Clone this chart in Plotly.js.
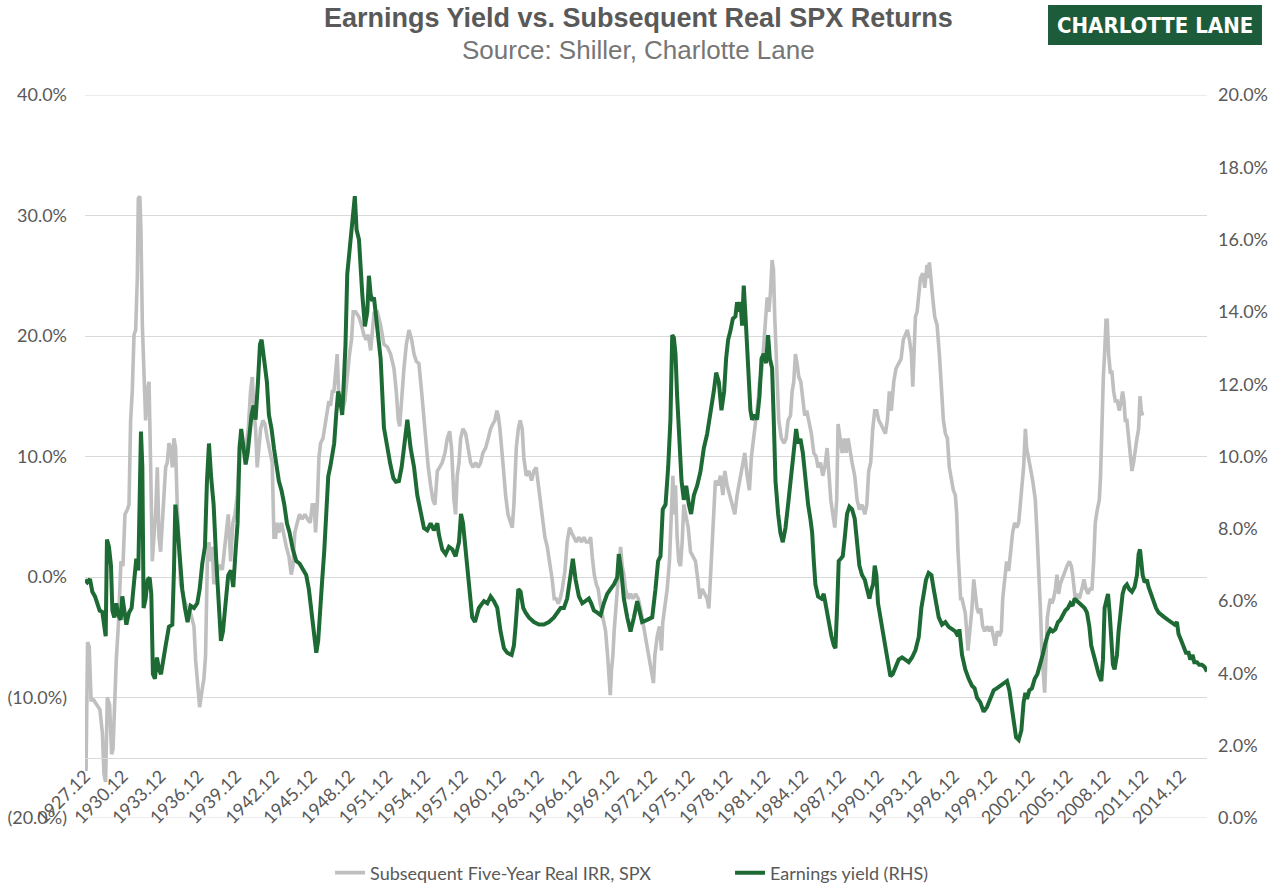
<!DOCTYPE html>
<html>
<head>
<meta charset="utf-8">
<script src="https://cdn.plot.ly/plotly-3.0.1.min.js"></script>
<style>
  html, body { margin: 0; padding: 0; background: #ffffff; }
  #chart { width: 1281px; height: 889px; }
</style>
</head>
<body>
<div id="chart"></div>
<script>
// Earnings yield (RHS, %) — month positions as decimal years
const yieldDates = [
  1927.92,1928.10,1928.31,1928.50,1928.71,1928.90,1929.08,1929.29,1929.42,1929.56,1929.66,1929.82,1929.98,
  1930.09,1930.24,1930.40,1930.56,1930.75,1930.88,1931.04,1931.20,1931.41,1931.62,1931.81,1931.99,
  1932.15,1932.28,1932.36,1932.47,1932.57,1932.73,1932.89,1933.05,1933.18,1933.31,1933.47,1933.63,1933.79,1933.95,
  1934.11,1934.32,1934.58,1934.85,1934.98,1935.09,1935.24,1935.43,1935.64,1935.85,1936.06,1936.30,1936.57,1936.83,
  1937.02,1937.23,1937.44,1937.60,1937.76,1937.94,1938.13,1938.34,1938.55,1938.71,1938.87,1939.08,1939.29,1939.50,1939.69,1939.87,
  1940.03,1940.19,1940.32,1940.51,1940.67,1940.83,1940.99,1941.14,1941.30,1941.46,1941.65,1941.81,1941.94,
  1942.07,1942.20,1942.36,1942.52,1942.73,1942.92,1943.10,1943.31,1943.52,1943.74,1943.95,1944.16,1944.42,1944.69,1944.95,
  1945.22,1945.48,1945.69,1945.91,1946.09,1946.28,1946.43,1946.59,1946.75,1946.91,1947.07,1947.23,1947.39,1947.55,1947.70,1947.86,
  1948.02,1948.18,1948.34,1948.50,1948.60,1948.74,1948.92,1949.08,1949.24,1949.34,1949.48,1949.67,1949.93,
  1950.14,1950.33,1950.46,1950.59,1950.72,1950.86,1951.12,1951.39,1951.65,1951.92,1952.15,1952.40,1952.60,1952.84,
  1953.06,1953.24,1953.51,1953.77,1954.04,1954.30,1954.56,1954.83,1955.09,1955.36,1955.62,1955.89,1956.02,1956.28,1956.55,1956.81,
  1957.08,1957.34,1957.61,1957.77,1957.93,1958.14,1958.40,1958.66,1958.88,1959.19,1959.59,1959.86,
  1960.12,1960.38,1960.65,1960.91,1961.18,1961.44,1961.79,1961.97,1962.10,1962.32,1962.50,1962.71,1962.90,
  1963.16,1963.56,1963.96,1964.35,1964.75,1965.15,1965.41,1965.68,1965.94,1966.20,1966.47,1966.65,1966.87,
  1967.13,1967.40,1967.66,1967.92,1968.11,1968.32,1968.59,1968.85,1969.11,1969.38,1969.64,1969.91,
  1970.17,1970.30,1970.49,1970.70,1970.97,1971.23,1971.50,1971.76,1971.89,1972.15,1972.55,1972.95,
  1973.21,1973.42,1973.61,1973.79,1974.01,1974.22,1974.40,1974.54,1974.67,1974.80,1974.93,
  1975.12,1975.28,1975.46,1975.65,1975.86,1976.04,1976.26,1976.52,1976.78,1977.05,1977.31,1977.58,1977.84,
  1978.03,1978.24,1978.45,1978.66,1978.82,1978.98,1979.17,1979.35,1979.56,1979.69,1979.83,1979.96,
  1980.09,1980.22,1980.36,1980.49,1980.62,1980.75,1980.88,1981.10,1981.28,1981.47,1981.63,1981.81,1981.99,
  1982.15,1982.29,1982.47,1982.60,1982.74,1982.95,1983.13,1983.32,1983.53,1983.74,1983.95,
  1984.19,1984.38,1984.54,1984.72,1984.91,1985.12,1985.33,1985.51,1985.65,1985.78,1985.91,
  1986.12,1986.39,1986.57,1986.76,1986.97,1987.18,1987.37,1987.50,1987.66,1987.76,1987.92,
  1988.08,1988.24,1988.42,1988.61,1988.82,1989.03,1989.22,1989.40,1989.61,1989.83,
  1990.01,1990.20,1990.36,1990.49,1990.62,1990.75,1990.88,1991.07,1991.25,1991.47,1991.68,1991.86,
  1992.05,1992.26,1992.52,1992.79,1993.05,1993.32,1993.58,1993.85,1994.11,1994.32,1994.51,1994.69,1994.90,
  1995.12,1995.30,1995.49,1995.70,1995.96,1996.23,1996.49,1996.76,1997.02,1997.23,1997.34,1997.55,1997.81,
  1998.08,1998.34,1998.55,1998.74,1999.00,1999.27,1999.53,1999.80,
  2000.06,2000.33,2000.59,2000.86,2001.12,2001.31,2001.47,2001.65,2001.84,
  2002.05,2002.26,2002.44,2002.58,2002.71,2002.89,2003.10,2003.32,2003.53,2003.77,2003.95,
  2004.16,2004.37,2004.56,2004.75,2004.96,2005.17,2005.35,2005.54,2005.75,2005.96,
  2006.15,2006.33,2006.49,2006.68,2006.86,2007.07,2007.28,2007.47,2007.66,2007.81,
  2008.00,2008.18,2008.40,2008.61,2008.74,2008.87,2009.00,2009.14,2009.27,2009.40,2009.53,2009.66,2009.85,2009.98,
  2010.11,2010.30,2010.46,2010.64,2010.83,2011.04,2011.25,2011.44,2011.57,2011.68,2011.78,2011.89,
  2012.05,2012.23,2012.36,2012.55,2012.76,2012.95,2013.16,2013.37,2013.63,2013.90,
  2014.16,2014.43,2014.61,2014.74,2014.96,2015.14,2015.33,2015.54,2015.67,2015.86,2015.99,
  2016.20,2016.38,2016.59,2016.80,2017.00
];
const yieldValues = [
  6.59,6.52,6.61,6.26,6.13,5.94,5.74,5.70,5.29,5.03,7.70,7.50,6.98,
  5.74,5.55,5.94,5.61,5.48,6.13,5.68,5.35,5.68,5.81,6.52,7.17,
  6.85,9.06,10.69,9.71,5.81,6.07,6.59,6.65,6.20,3.98,3.85,4.44,4.11,3.98,
  4.38,4.77,5.29,5.35,6.85,8.67,8.15,7.24,6.33,5.81,5.42,5.87,5.81,5.94,
  6.33,7.04,7.50,9.32,10.36,9.39,8.67,7.11,5.55,4.90,5.16,5.94,6.72,6.85,6.39,7.37,
  8.15,10.23,10.76,10.23,9.78,10.10,10.76,11.15,11.41,11.02,12.06,13.10,13.23,
  12.84,12.64,12.06,11.15,10.76,10.23,9.71,9.32,9.06,8.67,8.15,7.89,7.43,7.11,7.04,
  6.85,6.72,6.33,5.68,5.03,4.57,4.90,5.94,6.59,7.37,8.41,9.45,9.71,10.10,10.36,11.15,
  11.80,11.54,11.15,12.32,13.10,15.05,15.70,16.09,16.61,17.20,16.27,16.00,14.50,
  13.60,14.00,15.00,14.50,14.30,14.40,13.50,12.70,10.80,10.20,9.80,9.40,9.30,9.32,
  9.71,10.23,11.02,10.23,9.71,8.93,8.41,8.02,7.96,8.15,7.96,8.15,7.83,7.43,7.30,7.50,
  7.43,7.24,7.63,8.41,8.15,7.37,6.33,5.55,5.42,5.81,6.00,5.94,
  6.13,6.00,5.81,5.16,4.70,4.57,4.51,4.77,5.29,6.33,6.26,5.81,5.68,
  5.55,5.42,5.35,5.35,5.42,5.55,5.68,5.81,5.81,6.07,6.72,7.17,6.59,
  6.13,5.94,6.00,6.07,5.94,5.74,5.68,5.61,5.94,6.20,6.33,6.46,
  6.65,7.30,6.85,6.07,5.55,5.16,5.55,6.00,5.81,5.42,5.48,5.55,
  6.33,7.11,7.24,8.54,8.67,9.71,11.02,13.36,13.29,12.84,11.67,
  10.23,9.32,8.80,9.19,8.67,8.41,8.93,9.19,9.58,10.23,10.62,11.15,11.80,
  12.32,12.06,11.28,11.80,12.71,13.23,13.49,13.81,13.88,14.27,14.01,14.27,
  13.62,14.73,13.88,12.84,12.06,11.28,11.02,11.15,11.02,11.67,12.71,12.84,12.58,
  13.36,12.71,12.45,11.02,9.32,8.41,7.89,7.63,8.02,8.67,9.32,
  10.10,10.76,10.36,10.49,10.10,9.32,8.67,8.28,7.89,7.11,6.46,
  6.13,6.07,6.20,5.81,5.42,5.03,4.77,4.70,6.07,7.11,7.17,
  7.24,7.76,8.41,8.61,8.54,8.28,7.63,6.98,6.72,6.59,
  6.33,6.07,6.33,6.46,6.98,6.72,5.94,5.55,5.16,4.64,4.24,3.92,
  3.98,4.18,4.38,4.44,4.38,4.31,4.44,4.64,5.00,5.81,6.20,6.59,6.78,
  6.72,6.33,5.94,5.55,5.35,5.42,5.29,5.22,5.16,5.03,5.22,4.51,4.11,
  3.85,3.66,3.59,3.33,3.20,2.94,3.07,3.33,
  3.53,3.59,3.66,3.72,3.79,3.53,3.07,2.68,2.23,
  2.16,2.42,3.20,3.46,3.29,3.53,3.59,3.85,3.98,4.24,4.51,
  4.83,5.09,5.22,5.16,5.22,5.42,5.48,5.61,5.74,5.81,
  5.94,5.87,6.07,6.00,5.94,5.87,5.81,5.68,5.29,4.77,
  4.51,4.24,3.98,3.79,4.38,5.81,6.07,6.20,5.68,4.77,4.24,4.11,4.51,5.16,
  5.68,6.20,6.39,6.46,6.33,6.26,6.39,6.72,7.30,7.43,7.11,6.72,
  6.52,6.59,6.39,6.20,6.00,5.81,5.68,5.61,5.55,5.48,
  5.42,5.35,5.42,5.09,4.90,4.70,4.57,4.57,4.38,4.51,4.31,
  4.31,4.24,4.24,4.18,4.05
];

// Subsequent five-year real IRR on the S&P 500 (LHS, %)
const irrDates = [
  1927.92,1928.00,1928.12,1928.25,1928.40,1928.60,1928.85,1929.10,1929.30,1929.42,1929.55,1929.69,1929.87,
  1930.03,1930.14,1930.24,1930.40,1930.56,1930.67,1930.77,1930.93,1931.09,1931.28,1931.41,1931.54,1931.67,1931.81,1931.94,
  1932.07,1932.15,1932.27,1932.36,1932.47,1932.60,1932.73,1932.86,1933.00,1933.13,1933.26,1933.39,1933.52,1933.66,1933.79,1933.92,
  1934.05,1934.19,1934.32,1934.45,1934.58,1934.72,1934.85,1934.98,1935.11,1935.24,1935.38,1935.51,1935.77,
  1936.04,1936.30,1936.57,1936.70,1936.83,1937.02,1937.18,1937.36,1937.49,1937.63,1937.76,1937.89,
  1938.02,1938.15,1938.29,1938.55,1938.82,1939.08,1939.29,1939.48,1939.66,1939.82,
  1940.01,1940.19,1940.40,1940.67,1940.88,1941.06,1941.20,1941.33,1941.46,1941.59,1941.73,1941.86,
  1942.04,1942.20,1942.39,1942.57,1942.78,1942.92,1943.05,1943.18,1943.31,1943.52,1943.71,1943.90,
  1944.11,1944.29,1944.42,1944.58,1944.77,1944.95,1945.16,1945.38,1945.59,1945.80,1945.96,
  1946.12,1946.22,1946.36,1946.49,1946.62,1946.81,1947.02,1947.15,1947.28,1947.41,1947.55,1947.68,1947.81,1947.94,
  1948.07,1948.34,1948.55,1948.74,1948.92,1949.08,1949.21,1949.40,1949.66,1949.87,
  1950.06,1950.24,1950.40,1950.60,1950.86,1951.12,1951.39,1951.65,1951.92,1952.18,1952.45,1952.63,1952.79,1952.90,
  1953.06,1953.24,1953.43,1953.64,1953.85,1954.04,1954.22,1954.43,1954.64,1954.83,
  1955.01,1955.17,1955.36,1955.54,1955.70,1955.89,1956.07,1956.28,1956.50,1956.68,1956.87,
  1957.02,1957.21,1957.34,1957.47,1957.61,1957.74,1957.93,1958.14,1958.35,1958.53,1958.72,1958.93,
  1959.14,1959.33,1959.51,1959.72,1959.93,1960.12,1960.30,1960.46,1960.62,1960.73,1960.86,1960.99,
  1961.13,1961.31,1961.50,1961.71,1961.84,1961.97,1962.16,1962.32,1962.47,1962.63,1962.76,1962.95,
  1963.16,1963.37,1963.56,1963.74,1963.96,1964.11,1964.27,1964.43,1964.62,1964.80,
  1965.01,1965.17,1965.33,1965.49,1965.65,1965.81,1966.02,1966.20,1966.39,1966.55,1966.73,1966.92,
  1967.13,1967.34,1967.53,1967.71,1967.92,1968.06,1968.19,1968.35,1968.51,1968.66,1968.82,1968.98,
  1969.11,1969.25,1969.41,1969.51,1969.62,1969.72,1969.83,1969.93,1970.04,1970.17,1970.30,1970.44,1970.57,1970.70,1970.83,
  1971.05,1971.23,1971.42,1971.63,1971.84,1972.02,1972.21,1972.42,1972.68,1972.90,
  1973.05,1973.16,1973.35,1973.53,1973.69,1973.79,1973.95,1974.14,1974.32,1974.46,1974.59,1974.69,1974.80,1974.93,
  1975.06,1975.20,1975.33,1975.46,1975.59,1975.81,1975.99,1976.18,1976.39,1976.57,1976.73,1976.92,
  1977.13,1977.31,1977.45,1977.58,1977.71,1977.84,1977.97,1978.19,1978.37,1978.56,1978.72,1978.90,
  1979.09,1979.30,1979.51,1979.69,1979.88,1980.09,1980.30,1980.49,1980.67,1980.83,
  1981.02,1981.20,1981.36,1981.47,1981.63,1981.81,1981.94,1982.08,1982.21,1982.34,1982.47,1982.58,1982.68,1982.79,1982.90,
  1983.00,1983.21,1983.42,1983.58,1983.74,1983.93,1984.06,1984.19,1984.32,1984.46,1984.59,1984.75,1984.91,
  1985.06,1985.22,1985.38,1985.59,1985.78,1985.96,1986.12,1986.31,1986.49,1986.65,1986.84,1986.97,
  1987.13,1987.29,1987.45,1987.60,1987.71,1987.87,1988.03,1988.19,1988.35,1988.50,1988.66,1988.82,
  1989.03,1989.22,1989.40,1989.61,1989.83,1989.99,1990.14,1990.30,1990.46,1990.62,1990.78,1990.94,
  1991.10,1991.25,1991.47,1991.62,1991.78,1991.94,1992.13,1992.31,1992.52,1992.71,1992.89,
  1993.05,1993.21,1993.37,1993.53,1993.64,1993.74,1993.85,1993.98,1994.11,1994.25,1994.43,1994.59,1994.77,1994.85,1994.96,
  1995.12,1995.22,1995.38,1995.57,1995.75,1995.91,1996.07,1996.23,1996.39,1996.54,1996.70,1996.86,
  1997.02,1997.13,1997.23,1997.34,1997.44,1997.55,1997.68,1997.81,1997.92,
  1998.02,1998.13,1998.24,1998.34,1998.48,1998.61,1998.74,1998.87,1999.03,1999.19,1999.35,1999.53,1999.72,1999.88,
  2000.04,2000.19,2000.35,2000.51,2000.67,2000.78,2000.94,2001.09,2001.25,2001.41,2001.57,2001.73,2001.89,
  2002.05,2002.18,2002.31,2002.44,2002.58,2002.68,2002.79,2002.97,2003.16,2003.37,2003.50,2003.63,2003.77,2003.90,
  2004.03,2004.11,2004.22,2004.32,2004.43,2004.56,2004.69,2004.82,2004.96,
  2005.09,2005.22,2005.35,2005.49,2005.70,2005.88,2006.07,2006.23,2006.33,2006.44,2006.54,2006.70,2006.86,
  2007.07,2007.23,2007.39,2007.55,2007.71,2007.87,2008.00,2008.13,2008.29,2008.45,2008.55,2008.66,2008.77,2008.87,2008.98,
  2009.08,2009.19,2009.32,2009.45,2009.59,2009.72,2009.88,2010.04,2010.19,2010.30,2010.41,2010.51,2010.64,2010.78,2010.91,
  2011.04,2011.17,2011.31,2011.44,2011.57,2011.68,2011.78,2011.89
];
const irrValues = [
  -12.3,-16.1,-5.4,-5.8,-10.2,-10.2,-10.6,-11.0,-13.0,-16.3,-17.0,-10.0,-10.6,
  -14.7,-14.3,-11.2,-6.9,-4.1,-1.4,1.3,0.9,5.2,5.6,6.0,13.0,15.4,20.1,20.5,
  24.8,31.4,31.6,28.7,20.9,16.2,13.0,15.4,16.2,9.1,1.3,3.3,5.2,9.1,3.3,2.1,
  4.5,6.0,9.1,9.5,11.1,10.7,9.1,11.5,10.7,6.0,2.9,-0.6,-1.8,
  -2.6,-3.0,-4.1,-6.9,-8.4,-10.8,-9.6,-8.4,-6.5,1.3,2.9,1.3,
  2.5,-0.6,-0.2,1.0,0.6,3.3,5.2,1.3,4.5,5.2,
  6.8,11.1,11.1,10.7,12.3,15.4,16.6,13.8,12.3,9.1,10.7,12.3,
  13.0,12.7,11.5,10.7,9.5,3.3,3.3,4.5,3.7,4.5,3.3,2.5,
  1.7,0.2,0.9,3.7,4.5,5.2,4.8,5.2,4.8,4.5,6.0,
  6.0,3.7,6.0,9.9,11.1,11.5,13.0,13.8,14.6,14.2,15.4,15.4,17.3,18.5,
  15.0,13.8,14.6,17.0,18.5,19.7,22.0,22.0,21.6,20.9,
  20.1,19.7,20.1,18.8,21.9,22.0,20.9,19.3,19.1,18.5,17.3,15.4,13.0,12.5,
  15.0,17.3,19.3,20.5,19.7,18.5,17.9,17.7,15.4,13.0,
  10.7,9.1,7.6,6.4,6.0,8.8,9.1,9.5,10.3,11.5,12.1,
  10.7,6.4,5.2,8.4,9.5,11.5,12.3,11.9,10.7,9.5,9.1,9.5,
  9.1,9.5,10.3,10.7,11.5,12.3,12.7,13.0,13.8,13.4,12.3,10.3,
  9.1,6.8,5.2,4.5,4.1,6.0,10.7,12.3,13.0,12.3,9.9,8.4,
  8.8,8.0,8.8,9.1,7.2,6.0,4.5,3.3,2.5,1.3,
  -0.2,-1.8,-1.8,-2.2,-1.8,-1.0,0.5,2.9,4.1,3.7,3.3,2.9,
  3.3,2.9,3.3,2.9,2.9,3.3,1.7,0.2,-0.6,-1.0,-2.2,-3.0,
  -3.8,-4.5,-6.5,-8.8,-9.8,-7.7,-6.5,-4.5,-3.0,-1.0,1.3,2.5,0.9,0.2,-1.0,
  -1.8,-1.4,-1.8,-1.4,-1.8,-2.6,-3.8,-5.0,-6.5,-8.0,
  -8.8,-6.5,-4.9,-4.1,-6.1,-3.75,-2.6,-1.0,1.3,5.2,8.4,5.2,7.6,3.3,
  1.3,0.9,2.9,6.0,5.2,4.1,2.1,1.7,1.3,-0.2,-1.8,-1.0,
  -1.4,-1.8,-2.6,0.2,2.9,6.0,8.0,7.6,8.4,6.8,8.8,7.6,
  6.8,6.0,5.2,6.8,8.0,9.1,10.3,8.4,7.2,10.0,
  11.5,13.0,14.6,16.2,16.9,19.3,20.9,23.2,22.0,23.6,26.3,25.5,21.6,18.5,16.2,
  13.0,11.5,11.1,11.5,13.0,13.4,15.4,16.2,18.5,17.7,16.6,16.2,14.6,
  13.4,13.8,13.0,11.9,10.3,10.0,9.1,9.5,8.4,9.1,10.7,8.4,
  6.4,5.2,4.1,6.4,12.7,11.5,10.3,11.5,10.3,11.5,10.3,9.5,
  8.4,6.4,5.6,6.0,5.2,6.0,8.8,9.5,12.3,13.8,13.8,13.0,
  12.7,12.3,11.9,13.0,15.4,13.8,16.2,17.3,17.7,18.1,19.7,
  20.1,20.5,19.7,18.5,15.8,18.5,21.6,22.0,23.6,24.8,25.2,24.0,25.9,24.8,26.1,
  24.0,23.2,21.6,20.9,18.5,15.8,13.0,11.9,11.5,9.1,8.0,7.2,
  6.8,5.2,2.1,-0.6,-1.8,-1.8,-2.6,-3.0,-4.5,
  -6.1,-4.9,-3.75,-2.6,-0.2,-1.4,-2.6,-3.0,-2.6,-4.1,-4.5,-4.1,-4.5,-4.1,
  -4.9,-5.7,-4.5,-4.9,-4.5,-1.8,-0.2,1.3,0.5,2.1,3.7,4.5,4.1,
  4.5,6.4,7.6,9.1,12.3,10.7,9.9,9.1,8.0,6.4,3.7,1.3,-2.6,-6.5,
  -8.8,-9.6,-6.5,-3.4,-2.6,-1.8,-2.2,-1.8,-1.0,
  0.2,-1.4,-0.6,-0.2,0.5,0.9,1.3,0.9,0.2,-1.0,-1.8,-1.4,-1.8,
  -1.0,-0.2,-1.0,-1.4,-1.0,-1.0,1.3,4.5,5.6,6.4,8.4,13.0,16.6,18.5,21.3,
  21.3,18.5,17.0,17.0,15.4,14.6,14.6,13.8,14.6,15.4,14.6,13.0,13.0,11.5,9.9,
  8.8,9.5,10.7,11.5,12.3,15.0,13.8,13.4
];

// Axis labels
const dateTickLabels = [
  "1927.12","1930.12","1933.12","1936.12","1939.12","1942.12","1945.12","1948.12","1951.12","1954.12",
  "1957.12","1960.12","1963.12","1966.12","1969.12","1972.12","1975.12","1978.12","1981.12","1984.12",
  "1987.12","1990.12","1993.12","1996.12","1999.12","2002.12","2005.12","2008.12","2011.12","2014.12"
];
const leftTickValues = [-20, -10, 0, 10, 20, 30, 40];
const leftTickLabels = ["(20.0%)", "(10.0%)", "0.0%", "10.0%", "20.0%", "30.0%", "40.0%"];
const rightTickValues = [0, 2, 4, 6, 8, 10, 12, 14, 16, 18, 20];
const rightTickLabels = ["0.0%", "2.0%", "4.0%", "6.0%", "8.0%", "10.0%", "12.0%", "14.0%", "16.0%", "18.0%", "20.0%"];

const seriesNames = ["Subsequent Five-Year Real IRR, SPX", "Earnings yield (RHS)"];
const chartTitle = "Earnings Yield vs. Subsequent Real SPX Returns";
const chartSubtitle = "Source: Shiller, Charlotte Lane";
const brandName = "CHARLOTTE LANE";

// "1927.12" -> December 1927 as a decimal year
const dateTickValues = dateTickLabels.map(s => {
  const [y, m] = s.split(".").map(Number);
  return y + (m - 1) / 12;
});

const labelFamily = "Lato, 'Open Sans', sans-serif";
const tickFont = { family: labelFamily, size: 18, color: "#595959" };
const titleFamily = "'Liberation Sans', Arial, sans-serif";
const logoFamily = "'DejaVu Sans Condensed', 'DejaVu Sans', sans-serif";
const gridColor = "#d9d9d9";

const traces = [
  {
    x: irrDates, y: irrValues, name: seriesNames[0], type: "scatter", mode: "lines",
    yaxis: "y", line: { color: "#bfbfbf", width: 3.6 }, hoverinfo: "skip"
  },
  {
    x: yieldDates, y: yieldValues, name: seriesNames[1], type: "scatter", mode: "lines",
    yaxis: "y2", line: { color: "#1e6a34", width: 4 }, hoverinfo: "skip"
  }
];

const layout = {
  width: 1281, height: 889,
  margin: { l: 85, r: 74, t: 95, b: 71, autoexpand: false },
  paper_bgcolor: "#ffffff", plot_bgcolor: "#ffffff",
  showlegend: true,
  legend: {
    orientation: "h", x: 0.2184, xanchor: "left", y: -0.076, yanchor: "middle",
    font: { family: labelFamily, size: 18, color: "#595959" },
    itemwidth: 30, entrywidth: 355, entrywidthmode: "pixels"
  },
  xaxis: {
    range: [1927.917, 2017.0],
    anchor: "free", position: 5 / 60,
    showline: true, linecolor: gridColor, linewidth: 1,
    showgrid: false, zeroline: false, ticks: "",
    tickmode: "array", tickvals: dateTickValues, ticktext: dateTickLabels,
    tickangle: -45, tickfont: tickFont
  },
  yaxis: {
    range: [-20, 40], tickmode: "array", tickvals: leftTickValues, ticktext: leftTickLabels,
    showgrid: true, gridcolor: gridColor, gridwidth: 1, zeroline: false, showline: false,
    ticks: "", tickfont: tickFont, ticklabelstandoff: 17
  },
  yaxis2: {
    overlaying: "y", side: "right", range: [0, 20],
    tickmode: "array", tickvals: rightTickValues, ticktext: rightTickLabels,
    showgrid: false, zeroline: false, showline: false,
    ticks: "", tickfont: tickFont, ticklabelstandoff: 10
  },
  shapes: [
    // outer gridlines at the ends of the left scale
    { type: "line", xref: "paper", x0: 0, x1: 1, yref: "y", y0: -20, y1: -20,
      line: { color: gridColor, width: 1 }, layer: "below" },
    { type: "line", xref: "paper", x0: 0, x1: 1, yref: "y", y0: 40, y1: 40,
      line: { color: gridColor, width: 1 }, layer: "below" },
    // brand badge
    { type: "rect", xref: "paper", yref: "paper",
      x0: 0.8583, x1: 1.049, y0: 1.0692, y1: 1.1245,
      fillcolor: "#1d5c3a", line: { width: 0 }, layer: "above" }
  ],
  annotations: [
    {
      xref: "paper", yref: "paper", x: 0.4929, y: 1.1065, xanchor: "center", yanchor: "middle",
      text: "<b>" + chartTitle + "</b>", showarrow: false,
      font: { family: titleFamily, size: 27, color: "#595959" }
    },
    {
      xref: "paper", yref: "paper", x: 0.4929, y: 1.0622, xanchor: "center", yanchor: "middle",
      text: chartSubtitle, showarrow: false,
      font: { family: titleFamily, size: 26, color: "#767676" }
    },
    {
      xref: "paper", yref: "paper", x: 0.9537, y: 1.0968, xanchor: "center", yanchor: "middle",
      text: "<b>" + brandName + "</b>", showarrow: false,
      font: { family: logoFamily, size: 22, color: "#ffffff" }
    }
  ]
};

Plotly.newPlot("chart", traces, layout, { displayModeBar: false, staticPlot: true });
</script>
</body>
</html>
